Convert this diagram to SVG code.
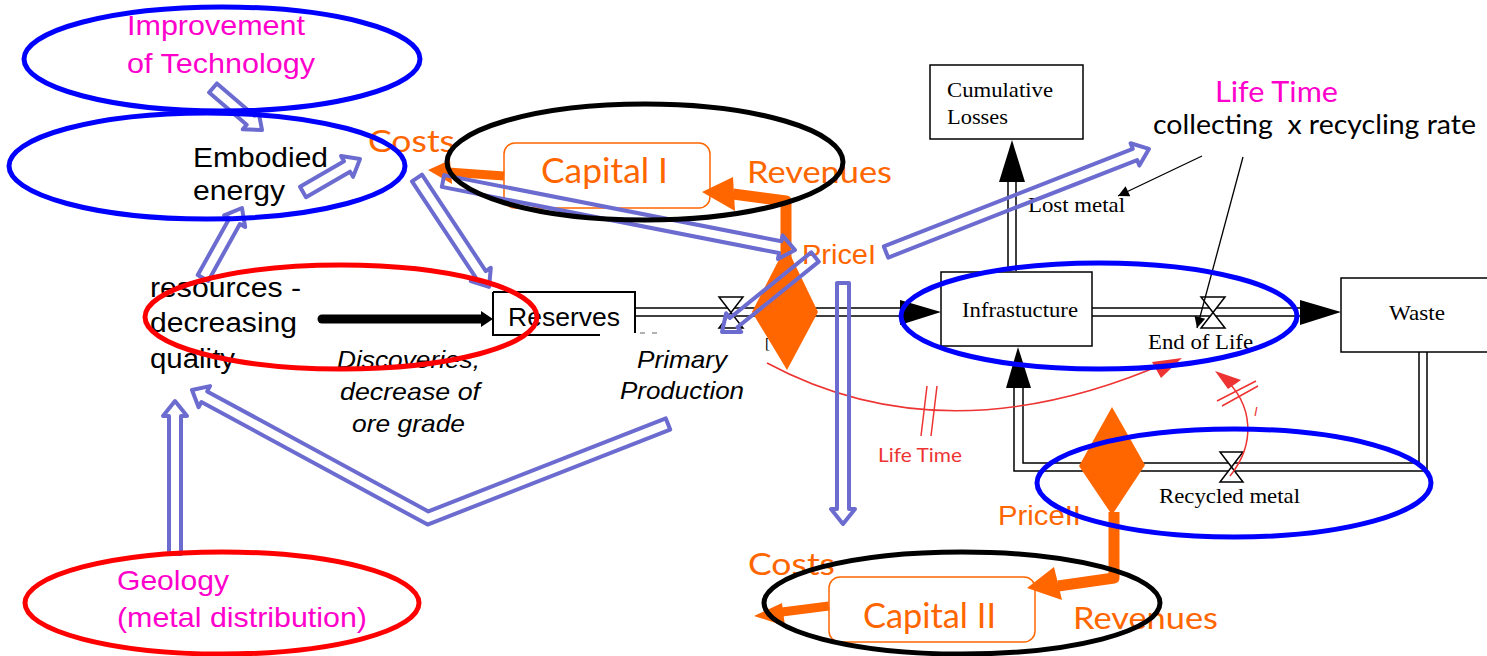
<svg xmlns="http://www.w3.org/2000/svg" width="1487" height="656" viewBox="0 0 1487 656">
  <defs>
    <style>
      .sans { font-family: "Liberation Sans", Arial, sans-serif; }
      .gill { font-family: Lato, "Open Sans", sans-serif; }
      .serif { font-family: "Liberation Serif", "Times New Roman", serif; }
      .mag { fill: #ff00cc; }
      .org { fill: #ff6600; }
      .blk { fill: #000; }
      .ell-blue { fill: none; stroke: #0000ff; stroke-width: 5; }
      .ell-red { fill: none; stroke: #ff0000; stroke-width: 5; }
      .ell-black { fill: none; stroke: #000; stroke-width: 5; }
      .hollow { fill: none; stroke: #6c6cd0; stroke-width: 4; stroke-linejoin: round; }
      .box { fill: #fff; stroke: #000; stroke-width: 1.5; }
      .pipe { fill: none; stroke: #000; stroke-width: 1.5; }
      .valve { fill: #fff; stroke: #000; stroke-width: 1.5; stroke-linejoin: miter; }
      .cap { fill: none; stroke: #ff6600; stroke-width: 1.5; }
      .thick-org { fill: none; stroke: #ff6600; stroke-width: 11; stroke-linejoin: round; }
      .redline { fill: none; stroke: #ee3333; stroke-width: 1.5; }
    </style>
    <marker id="ah" viewBox="0 0 10 10" refX="10" refY="5" markerWidth="14" markerHeight="11" markerUnits="userSpaceOnUse" orient="auto">
      <path d="M0,0 L10,5 L0,10 z" fill="#000"/>
    </marker>
  </defs>

  <rect width="1487" height="656" fill="#fff"/>

  <!-- stock-and-flow pipes -->
  <g id="pipes">
    <!-- Reserves to Infrastructure -->
    <path class="pipe" d="M635,308 H904 M635,316 H904"/>
    <polygon points="900,300 941,312 900,325" fill="#000"/>
    <path class="valve" d="M719,297 H743 L719,328 H743 Z"/>
    <!-- Infrastructure to Waste -->
    <path class="pipe" d="M1092,308 H1304 M1092,316 H1304"/>
    <polygon points="1300,300 1341,312 1300,325" fill="#000"/>
    <path class="valve" d="M1201,297 H1225 L1201,328 H1225 Z"/>
    <!-- losses -->
    <path class="pipe" d="M1008,271 V180 M1016,271 V180"/>
    <polygon points="999,182 1025,182 1012,140" fill="#000"/>
    <!-- recycling loop -->
    <path class="pipe" d="M1014,386 V471 H1427 V352 M1023,386 V463 H1419 V352"/>
    <polygon points="1006,388 1031,388 1018,347" fill="#000"/>
    <path class="valve" d="M1220,452 H1243 L1220,482 H1243 Z"/>
    <path d="M640,333 H664" stroke="#999" stroke-width="1.5" stroke-dasharray="5 7"/>
  </g>

  <!-- stocks -->
  <g id="reserves">
    <path d="M493,292 H635 V333 M600,335 H493 V292" fill="#fff" stroke="#000" stroke-width="2"/>
    <text class="sans blk" x="508" y="326" font-size="26" textLength="112" lengthAdjust="spacingAndGlyphs">Reserves</text>
  </g>
  <g id="cumulative-losses">
    <rect class="box" x="930" y="65" width="153" height="74"/>
    <text class="serif blk" x="947" y="97" font-size="21" textLength="106" lengthAdjust="spacingAndGlyphs">Cumulative</text>
    <text class="serif blk" x="947" y="124" font-size="21" textLength="61" lengthAdjust="spacingAndGlyphs">Losses</text>
  </g>
  <g id="infrastructure">
    <rect class="box" x="941" y="272" width="151" height="74"/>
    <text class="serif blk" x="962" y="317" font-size="21" textLength="116" lengthAdjust="spacingAndGlyphs">Infrastucture</text>
  </g>
  <g id="waste">
    <rect class="box" x="1341" y="278" width="160" height="74"/>
    <text class="serif blk" x="1389" y="320" font-size="21" textLength="56" lengthAdjust="spacingAndGlyphs">Waste</text>
  </g>

  <!-- flow labels -->
  <g id="flow-labels">
    <text class="serif blk" x="1028" y="212" font-size="21" textLength="97" lengthAdjust="spacingAndGlyphs">Lost metal</text>
    <text class="serif blk" x="1148" y="349" font-size="21" textLength="105" lengthAdjust="spacingAndGlyphs">End of Life</text>
    <text class="serif blk" x="1159" y="503" font-size="21" textLength="141" lengthAdjust="spacingAndGlyphs">Recycled metal</text>
    <text class="serif blk" x="765" y="348" font-size="15">[</text>
  </g>

  <!-- resource texts -->
  <g id="resources">
    <text class="sans blk" x="150" y="297" font-size="27" textLength="151" lengthAdjust="spacingAndGlyphs">resources -</text>
    <text class="sans blk" x="150" y="332" font-size="27" textLength="147" lengthAdjust="spacingAndGlyphs">decreasing</text>
    <text class="sans blk" x="150" y="368" font-size="27" textLength="85" lengthAdjust="spacingAndGlyphs">quality</text>
  </g>
  <g id="discoveries">
    <text class="sans blk" font-style="italic" x="337" y="368" font-size="24" textLength="143" lengthAdjust="spacingAndGlyphs">Discoveries,</text>
    <text class="sans blk" font-style="italic" x="340" y="400" font-size="24" textLength="140" lengthAdjust="spacingAndGlyphs">decrease of</text>
    <text class="sans blk" font-style="italic" x="352" y="432" font-size="24" textLength="113" lengthAdjust="spacingAndGlyphs">ore grade</text>
  </g>
  <g id="primary-production">
    <text class="sans blk" font-style="italic" x="637" y="368" font-size="24" textLength="90" lengthAdjust="spacingAndGlyphs">Primary</text>
    <text class="sans blk" font-style="italic" x="620" y="399" font-size="24" textLength="124" lengthAdjust="spacingAndGlyphs">Production</text>
  </g>
  <g id="improvement">
    <text class="sans mag" x="127" y="35" font-size="28" textLength="178" lengthAdjust="spacingAndGlyphs">Improvement</text>
    <text class="sans mag" x="127" y="73" font-size="28" textLength="188" lengthAdjust="spacingAndGlyphs">of Technology</text>
  </g>
  <g id="embodied-energy">
    <text class="sans blk" x="193" y="167" font-size="28" textLength="135" lengthAdjust="spacingAndGlyphs">Embodied</text>
    <text class="sans blk" x="193" y="200" font-size="28" textLength="92" lengthAdjust="spacingAndGlyphs">energy</text>
  </g>
  <g id="geology">
    <text class="sans mag" x="117" y="590" font-size="28" textLength="112" lengthAdjust="spacingAndGlyphs">Geology</text>
    <text class="sans mag" x="117" y="627" font-size="28" textLength="250" lengthAdjust="spacingAndGlyphs">(metal distribution)</text>
  </g>
  <g id="life-time-label">
    <text class="gill mag" x="1215" y="102" font-size="29" textLength="123" lengthAdjust="spacingAndGlyphs">Life Time</text>
    <text class="gill blk" x="1153" y="134" font-size="26" style="white-space:pre" textLength="323" lengthAdjust="spacingAndGlyphs">collecting  x recycling rate</text>
  </g>

  <!-- economic loop I -->
  <g id="capital-1">
    <rect class="cap" x="504" y="143" width="206" height="65" rx="11"/>
    <text class="gill org" x="541" y="183" font-size="34" textLength="127" lengthAdjust="spacingAndGlyphs">Capital I</text>
    <text class="gill org" x="368" y="152" font-size="31" textLength="87" lengthAdjust="spacingAndGlyphs">Costs</text>
    <text class="gill org" x="747" y="183" font-size="31" textLength="145" lengthAdjust="spacingAndGlyphs">Revenues</text>
  </g>
  <g id="price-1">
    <polygon points="786,246 818,312 787,370 752,312" fill="#ff6600"/>
    <text class="sans org" x="802" y="264" font-size="28" textLength="74" lengthAdjust="spacingAndGlyphs">PriceI</text>
  </g>

  <!-- economic loop II -->
  <g id="capital-2">
    <rect class="cap" x="829" y="577" width="206" height="65" rx="11"/>
    <text class="gill org" x="863" y="628" font-size="34" textLength="133" lengthAdjust="spacingAndGlyphs">Capital II</text>
    <text class="gill org" x="748" y="575" font-size="31" textLength="87" lengthAdjust="spacingAndGlyphs">Costs</text>
    <text class="gill org" x="1073" y="629" font-size="31" textLength="145" lengthAdjust="spacingAndGlyphs">Revenues</text>
  </g>
  <g id="price-2">
    <polygon points="1112,407 1145,465 1112,515 1079,466" fill="#ff6600"/>
    <text class="sans org" x="998" y="525" font-size="27" textLength="83" lengthAdjust="spacingAndGlyphs">PriceII</text>
  </g>

  <g id="life-time-delay">
    <text class="gill" x="878" y="462" font-size="19" fill="#ee3333" textLength="84" lengthAdjust="spacingAndGlyphs">Life Time</text>
    <text class="sans" x="1254" y="416" font-size="13" font-style="italic" fill="#ee3333">I</text>
  </g>

  <!-- connectors -->
  <g id="connectors">
    <!-- money flows -->
    <path class="thick-org" d="M786,262 L786,201 L733,194"/>
    <polygon points="702,192 733,177 735,211" fill="#ff6600"/>
    <path d="M504,176 L448,172" stroke="#ff6600" stroke-width="9" fill="none"/>
    <polygon points="428,170 450,160 452,184" fill="#ff6600"/>
    <path class="thick-org" d="M1114,512 L1114,578 L1058,586"/>
    <polygon points="1027,588 1054,567 1062,600" fill="#ff6600"/>
    <path d="M829,606 L782,612" stroke="#ff6600" stroke-width="9" fill="none"/>
    <polygon points="754,616 782,603 785,626" fill="#ff6600"/>

    <!-- discoveries -->
    <line x1="322" y1="319" x2="484" y2="319" stroke="#000" stroke-width="9" stroke-linecap="round"/>
    <polygon points="481,311 493,319 481,327" fill="#000"/>

    <!-- thin information links -->
    <line x1="1202" y1="156" x2="1118" y2="196" stroke="#000" stroke-width="1.3" marker-end="url(#ah)"/>
    <line x1="1243" y1="157" x2="1197" y2="328" stroke="#000" stroke-width="1.3" marker-end="url(#ah)"/>

    <!-- delayed links -->
    <path class="redline" d="M767,363 Q946,459 1168,362"/>
    <polygon points="1182,358 1152,362 1161,378" fill="#ee3333"/>
    <path class="redline" d="M927,386 L921,436 M937,386 L931,436"/>
    <path class="redline" d="M1230,476 C1255,445 1255,405 1222,376"/>
    <polygon points="1215,371 1241,380 1228,389" fill="#ee3333"/>
    <path class="redline" d="M1217,401 L1256,381 M1222,406 L1258,386"/>

    <!-- hollow influence arrows -->
    <polygon class="hollow" transform="translate(213,88) rotate(40.6)" points="0,-6 49.5,-6 49.5,-12 64.5,0 49.5,12 49.5,6 0,6"/>
    <polygon class="hollow" transform="translate(303,192) rotate(-30.1)" points="0,-6 50.9,-6 50.9,-12 65.9,0 50.9,12 50.9,6 0,6"/>
    <polygon class="hollow" transform="translate(203,278) rotate(-60.9)" points="0,-6 65.1,-6 65.1,-12 80.1,0 65.1,12 65.1,6 0,6"/>
    <polygon class="hollow" transform="translate(417,178) rotate(56.5)" points="0,-6 115.6,-6 115.6,-12 130.6,0 115.6,12 115.6,6 0,6"/>
    <polygon class="hollow" transform="translate(443,181) rotate(11.1)" points="0,-6 343.7,-6 343.7,-12 358.7,0 343.7,12 343.7,6 0,6"/>
    <polygon class="hollow" transform="translate(815,257) rotate(141.1)" points="0,-6 104.5,-6 104.5,-12 119.5,0 104.5,12 104.5,6 0,6"/>
    <polygon class="hollow" transform="translate(886,252) rotate(-21.4)" points="0,-6 267.4,-6 267.4,-12 282.4,0 267.4,12 267.4,6 0,6"/>
    <polygon class="hollow" transform="translate(843,283) rotate(90)" points="0,-6 226,-6 226,-12 241,0 226,12 226,6 0,6"/>
    <polygon class="hollow" transform="translate(175,554) rotate(-90)" points="0,-6 138,-6 138,-12 153,0 138,12 138,6 0,6"/>
    <polygon class="hollow" points="665.8,418.4 428.4,511.4 207.2,391.4 210.0,386.1 192,390 198.6,407.2 201.4,402.0 427.6,524.6 670.2,429.6"/>
  </g>

  <!-- grouping ellipses -->
  <g id="ellipses">
    <ellipse class="ell-blue" cx="222" cy="59" rx="198" ry="52"/>
    <ellipse class="ell-blue" cx="207" cy="166" rx="198" ry="53"/>
    <ellipse class="ell-red" cx="341" cy="317" rx="196" ry="52"/>
    <ellipse class="ell-red" cx="222" cy="603" rx="197" ry="51"/>
    <ellipse class="ell-black" cx="645" cy="162" rx="198" ry="58"/>
    <ellipse class="ell-blue" cx="1099" cy="316" rx="198" ry="53"/>
    <ellipse class="ell-blue" cx="1234" cy="483" rx="197" ry="54"/>
    <ellipse class="ell-black" cx="962" cy="603" rx="198" ry="51"/>
  </g>
</svg>
